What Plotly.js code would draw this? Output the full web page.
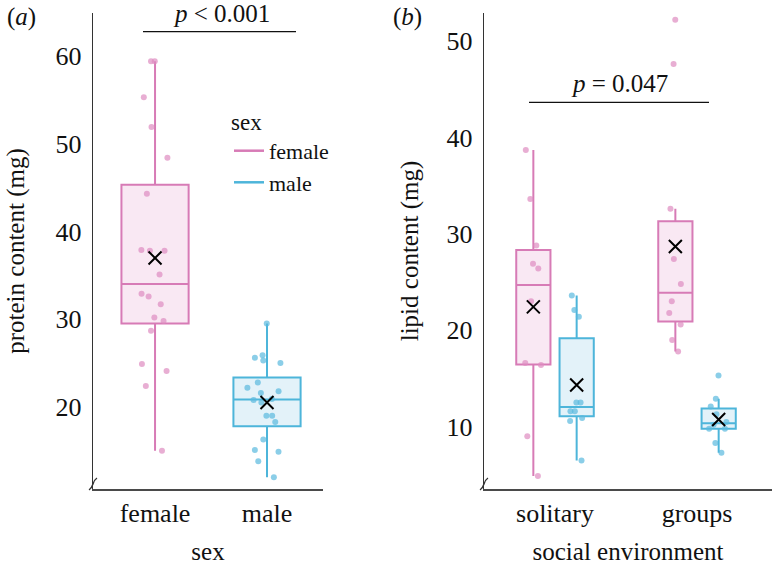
<!DOCTYPE html>
<html>
<head>
<meta charset="utf-8">
<script src="https://cdn.plot.ly/plotly-3.0.1.min.js"></script>
<style>html,body{margin:0;padding:0;background:#fff;}#chart{width:772px;height:565px;}</style>
</head>
<body>
<div id="chart"></div>
<script>
// ---- data ----
const sexCats = ['female', 'male'];
const envCats = ['solitary', 'groups'];

// panel (a): protein content (mg)
const proteinFemale = [59.4, 59.4, 55.3, 51.9, 48.4, 44.3, 37.8, 37.8, 37.9, 35.1,
                       32.6, 32.9, 31.7, 30.2, 29.8, 28.7, 24.9, 24.1, 22.4, 15.0];
const proteinMale   = [29.5, 25.9, 25.0, 25.3, 25.6, 22.8, 22.2, 21.6, 21.8, 20.9,
                       20.8, 20.5, 19.0, 19.0, 18.3, 16.3, 14.9, 15.1, 13.8, 12.0];

// panel (b): lipid content (mg)
const lipidFemaleSolitary = [38.7, 33.6, 28.8, 26.9, 26.4, 23.0, 16.4, 16.6, 9.0, 4.9];
const lipidFemaleGroups   = [52.2, 47.6, 32.6, 27.4, 24.8, 23.0, 21.8, 20.6, 19.0, 17.8];
const lipidMaleSolitary   = [23.6, 22.1, 21.4, 12.5, 12.5, 11.6, 11.6, 10.9, 10.6, 6.5];
const lipidMaleGroups     = [15.3, 12.9, 12.1, 11.3, 10.5, 10.2, 9.8, 9.8, 8.3, 7.3];

const pTextA = '<i>p</i> &lt; 0.001';
const pTextB = '<i>p</i> = 0.047';

// ---- styling ----
const FONT = '"Liberation Serif", "Times New Roman", serif';
const PINK = '#D77BB6', PINK_FILL = '#F9E8F3', PINK_PT = 'rgba(222,140,192,0.7)';
const BLUE = '#4DB5DA', BLUE_FILL = '#E3F2F9', BLUE_PT = 'rgba(90,185,222,0.7)';

// ---- stats (ggplot-style, type-7 quantiles, 1.5 IQR whiskers) ----
function q7(arr, p) {
  const s = [...arr].sort((a, b) => a - b);
  const h = (s.length - 1) * p, lo = Math.floor(h);
  const hi = Math.min(lo + 1, s.length - 1);
  return s[lo] + (h - lo) * (s[hi] - s[lo]);
}
function stats(arr) {
  const q1 = q7(arr, 0.25), med = q7(arr, 0.5), q3 = q7(arr, 0.75);
  const iqr = q3 - q1;
  const inside = arr.filter(v => v >= q1 - 1.5 * iqr && v <= q3 + 1.5 * iqr);
  return { q1, med, q3, lo: Math.min(...inside), hi: Math.max(...inside),
           mean: arr.reduce((a, b) => a + b, 0) / arr.length };
}

function statBox(cats, groups, line, fill, xa, ya, og, width) {
  const st = groups.map(stats);
  const t = {
    type: 'box', x: cats, xaxis: xa, yaxis: ya,
    q1: st.map(s => s.q1), median: st.map(s => s.med), q3: st.map(s => s.q3),
    lowerfence: st.map(s => s.lo), upperfence: st.map(s => s.hi),
    boxpoints: false, whiskerwidth: 0, fillcolor: fill,
    line: { color: line, width: 2 }, showlegend: false, hoverinfo: 'skip',
    alignmentgroup: xa, offsetgroup: og
  };
  if (width) t.width = width;
  return t;
}
function pointBox(cats, groups, color, xa, ya, og, width) {
  const xs = [], ys = [];
  groups.forEach((g, i) => g.forEach(v => { xs.push(cats[i]); ys.push(v); }));
  const t = {
    type: 'box', x: xs, y: ys, xaxis: xa, yaxis: ya,
    boxpoints: 'all', jitter: 0.6, pointpos: 0, whiskerwidth: 0,
    fillcolor: 'rgba(0,0,0,0)', line: { color: 'rgba(0,0,0,0)', width: 0 },
    marker: { color: color, size: 6 }, showlegend: false, hoverinfo: 'skip',
    alignmentgroup: xa, offsetgroup: og
  };
  if (width) t.width = width;
  return t;
}
function meanBox(cats, groups, xa, ya, og, width) {
  const xs = [], ys = [];
  groups.forEach((g, i) => { xs.push(cats[i]); ys.push(stats(g).mean); });
  const t = {
    type: 'box', x: xs, y: ys, xaxis: xa, yaxis: ya,
    boxpoints: 'all', jitter: 0, pointpos: 0, whiskerwidth: 0,
    fillcolor: 'rgba(0,0,0,0)', line: { color: 'rgba(0,0,0,0)', width: 0 },
    marker: { symbol: 'x-thin', size: 13, color: '#000', line: { color: '#000', width: 2 } },
    showlegend: false, hoverinfo: 'skip',
    alignmentgroup: xa, offsetgroup: og
  };
  if (width) t.width = width;
  return t;
}

const traces = [
  // panel (a)
  statBox([sexCats[0]], [proteinFemale], PINK, PINK_FILL, 'x', 'y', 'a', 0.6),
  statBox([sexCats[1]], [proteinMale], BLUE, BLUE_FILL, 'x', 'y', 'a', 0.6),
  pointBox([sexCats[0]], [proteinFemale], PINK_PT, 'x', 'y', 'a', 0.6),
  pointBox([sexCats[1]], [proteinMale], BLUE_PT, 'x', 'y', 'a', 0.6),
  meanBox(sexCats, [proteinFemale, proteinMale], 'x', 'y', 'a', 0.6),
  // panel (b)
  statBox(envCats, [lipidFemaleSolitary, lipidFemaleGroups], PINK, PINK_FILL, 'x2', 'y2', 'f'),
  statBox(envCats, [lipidMaleSolitary, lipidMaleGroups], BLUE, BLUE_FILL, 'x2', 'y2', 'm'),
  pointBox(envCats, [lipidFemaleSolitary, lipidFemaleGroups], PINK_PT, 'x2', 'y2', 'f'),
  pointBox(envCats, [lipidMaleSolitary, lipidMaleGroups], BLUE_PT, 'x2', 'y2', 'm'),
  meanBox(envCats, [lipidFemaleSolitary, lipidFemaleGroups], 'x2', 'y2', 'f'),
  meanBox(envCats, [lipidMaleSolitary, lipidMaleGroups], 'x2', 'y2', 'm'),
  // legend entries (line keys)
  { type: 'scatter', mode: 'lines', x: [null], y: [null], name: sexCats[0],
    line: { color: PINK, width: 2.5 }, xaxis: 'x', yaxis: 'y', hoverinfo: 'skip' },
  { type: 'scatter', mode: 'lines', x: [null], y: [null], name: sexCats[1],
    line: { color: BLUE, width: 2.5 }, xaxis: 'x', yaxis: 'y', hoverinfo: 'skip' }
];

const tickFont = { family: FONT, size: 26, color: '#111' };
const titleFont = { family: FONT, size: 25, color: '#111' };
const xBase = {
  type: 'category', showline: true, linecolor: '#4a4a4a', linewidth: 2,
  ticks: '', showgrid: false, zeroline: false, tickfont: tickFont,
  ticklabelstandoff: 0, fixedrange: true
};
const yBase = {
  showline: true, linecolor: '#333', linewidth: 1.2, ticks: '', showgrid: false,
  zeroline: false, tickfont: tickFont, dtick: 10, tick0: 0,
  ticklabelstandoff: 5, fixedrange: true
};

const W = 772, PT = 13, PB = 489, PH = PB - PT;
const px = v => v / W;
const py = v => (PB - v) / PH;

const layout = {
  width: W, height: 565,
  margin: { l: 0, r: 0, t: PT, b: 565 - PB },
  paper_bgcolor: '#fff', plot_bgcolor: '#fff',
  font: { family: FONT, size: 24, color: '#111' },
  boxmode: 'group', boxgap: 0.39, boxgroupgap: 0.21,
  showlegend: true,
  legend: {
    title: { text: 'sex', font: { family: FONT, size: 23, color: '#111' } },
    font: { family: FONT, size: 22, color: '#111' },
    x: px(229), y: py(100), xanchor: 'left', yanchor: 'top',
    bgcolor: 'rgba(0,0,0,0)', tracegroupgap: 0
  },
  xaxis: Object.assign({}, xBase, {
    domain: [px(93), px(323)], anchor: 'y', range: [-0.554, 1.5],
    categoryorder: 'array', categoryarray: sexCats,
    title: { text: 'sex', font: titleFont, standoff: 15 }
  }),
  yaxis: Object.assign({}, yBase, {
    domain: [0, 1], anchor: 'x', range: [10.65, 64.9],
    title: { text: 'protein content (mg)', font: titleFont, standoff: 23 }
  }),
  xaxis2: Object.assign({}, xBase, {
    domain: [px(484), 1], anchor: 'y2', range: [-0.5, 1.528],
    categoryorder: 'array', categoryarray: envCats,
    title: { text: 'social environment', font: titleFont, standoff: 15 }
  }),
  yaxis2: Object.assign({}, yBase, {
    domain: [0, 1], anchor: 'x2', range: [3.54, 52.9],
    title: { text: 'lipid content (mg)', font: titleFont, standoff: 20 }
  }),
  annotations: [
    { xref: 'paper', yref: 'paper', x: px(5), y: py(17), xanchor: 'left', yanchor: 'middle',
      text: '(<i>a</i>)', showarrow: false, font: titleFont },
    { xref: 'paper', yref: 'paper', x: px(391), y: py(17), xanchor: 'left', yanchor: 'middle',
      text: '(<i>b</i>)', showarrow: false, font: titleFont },
    { xref: 'paper', yref: 'paper', x: px(221), y: py(14), xanchor: 'center', yanchor: 'middle',
      text: pTextA, showarrow: false, font: titleFont },
    { xref: 'paper', yref: 'paper', x: px(619), y: py(83), xanchor: 'center', yanchor: 'middle',
      text: pTextB, showarrow: false, font: titleFont }
  ],
  shapes: [
    { type: 'line', xref: 'paper', yref: 'paper', x0: px(143), x1: px(296), y0: py(31.7), y1: py(31.7),
      line: { color: '#111', width: 1.3 } },
    { type: 'line', xref: 'paper', yref: 'paper', x0: px(529), x1: px(709), y0: py(102.3), y1: py(102.3),
      line: { color: '#111', width: 1.3 } },
    { type: 'path', xref: 'paper', yref: 'paper',
      path: `M ${px(89)},${py(490)} C ${px(94)},${py(487)} ${px(92)},${py(481)} ${px(97)},${py(478)}`,
      line: { color: '#333', width: 1.4 } },
    { type: 'path', xref: 'paper', yref: 'paper',
      path: `M ${px(480)},${py(490)} C ${px(485)},${py(487)} ${px(483)},${py(481)} ${px(488)},${py(478)}`,
      line: { color: '#333', width: 1.4 } }
  ]
};

Plotly.newPlot('chart', traces, layout, { displayModeBar: false, staticPlot: true });
</script>
</body>
</html>
